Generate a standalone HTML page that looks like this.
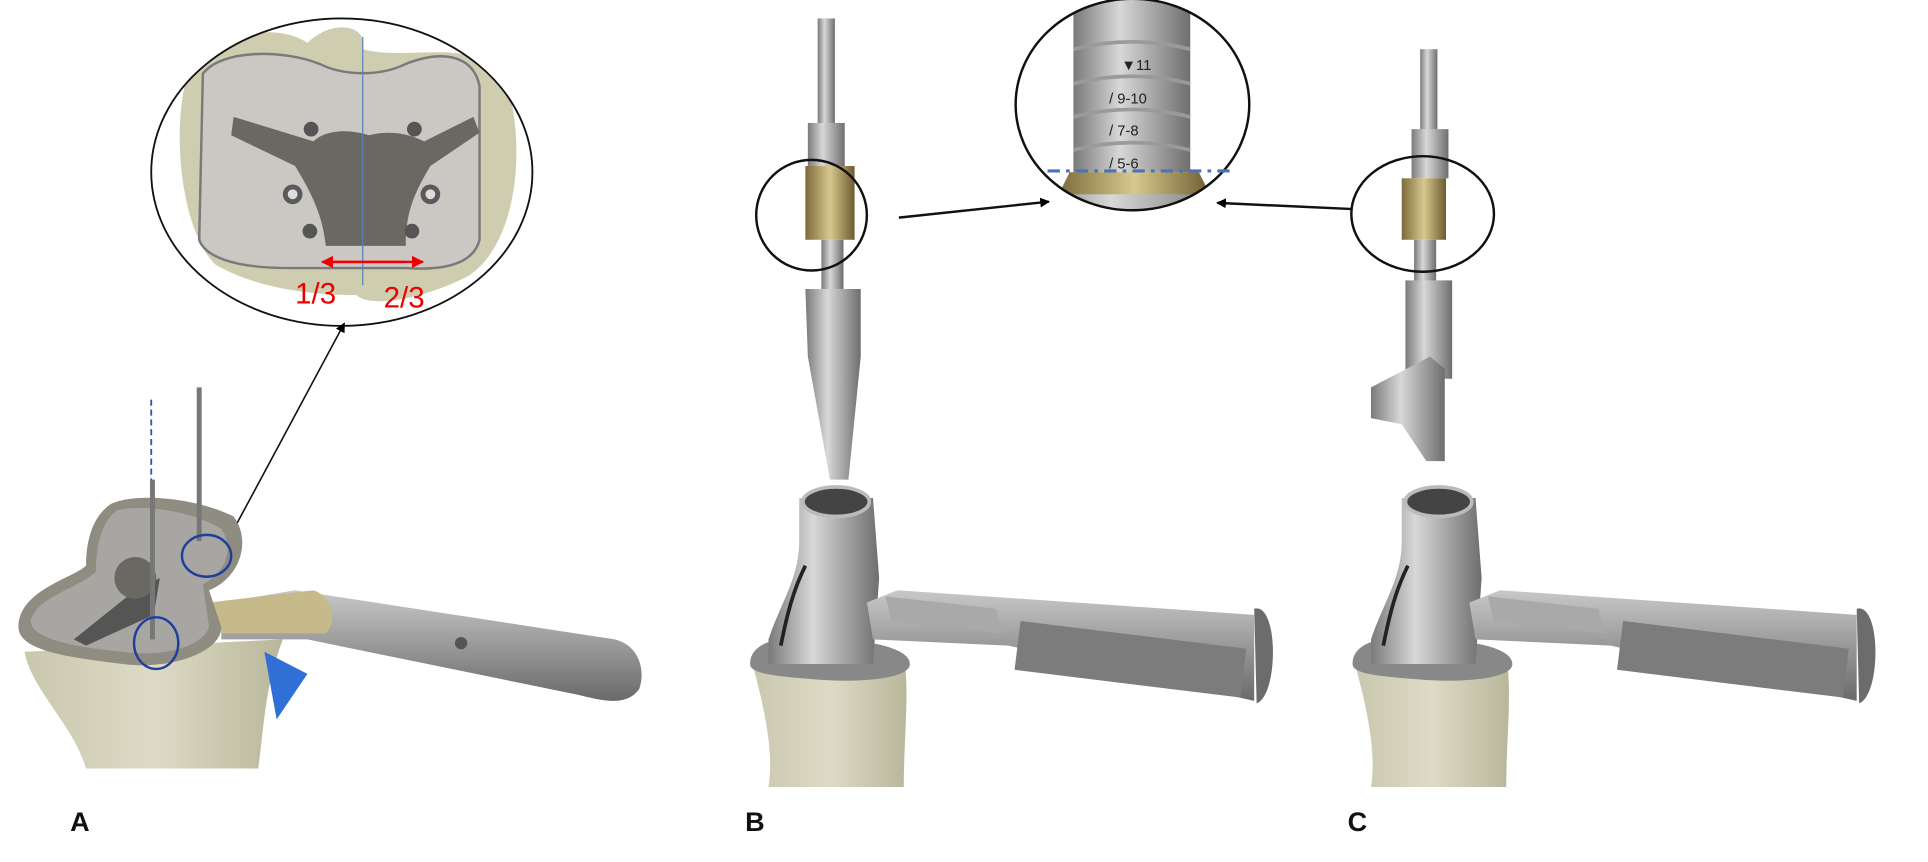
<!DOCTYPE html>
<html><head><meta charset="utf-8"><style>
html,body{margin:0;padding:0;background:#fff;width:1928px;height:862px;overflow:hidden}
svg{display:block}
</style></head><body>
<svg width="1928" height="862" viewBox="0 0 1568 701" preserveAspectRatio="none" xmlns="http://www.w3.org/2000/svg" font-family="Liberation Sans, Arial, sans-serif">
<defs>
<linearGradient id="met" x1="0" x2="1"><stop offset="0" stop-color="#7a7a7a"/><stop offset=".4" stop-color="#d8d8d8"/><stop offset="1" stop-color="#6e6e6e"/></linearGradient>
<linearGradient id="bone" x1="0" x2="1"><stop offset="0" stop-color="#c9c7ad"/><stop offset=".5" stop-color="#dddbc6"/><stop offset="1" stop-color="#b9b79a"/></linearGradient>
<linearGradient id="gold" x1="0" x2="1"><stop offset="0" stop-color="#7c6a3a"/><stop offset=".5" stop-color="#d8c88e"/><stop offset="1" stop-color="#6d5c30"/></linearGradient>
<linearGradient id="hand" y1="0" y2="1" x1="0" x2="0"><stop offset="0" stop-color="#c8c8c8"/><stop offset="1" stop-color="#6a6a6a"/></linearGradient>
<marker id="ah" markerWidth="8" markerHeight="8" refX="7" refY="4" orient="auto" markerUnits="userSpaceOnUse"><path d="M0,0 L8,4 L0,8 z" fill="#000"/></marker>
<marker id="ra" markerWidth="10" markerHeight="10" refX="9" refY="5" orient="auto" markerUnits="userSpaceOnUse"><path d="M0,0 L10,5 L0,10 z" fill="#e00"/></marker>
<clipPath id="c1"><ellipse cx="278" cy="140" rx="155" ry="125"/></clipPath>
<clipPath id="c2"><ellipse cx="921" cy="85" rx="95" ry="86"/></clipPath>
</defs>

<!-- ===== A zoom circle ===== -->
<g clip-path="url(#c1)">
<path d="M150,70 C170,20 230,20 250,35 C270,15 300,20 295,40 C330,50 380,30 410,60 C430,120 420,200 380,225 C340,245 300,250 290,240 C240,240 200,230 175,215 C150,190 140,120 150,70z" fill="#cfcdb0"/>
<path d="M165,60 C180,40 230,40 260,52 C280,62 310,62 330,52 C360,40 385,45 390,70 L390,195 C385,215 360,220 330,218 L290,218 L235,218 C200,218 168,212 162,195 z" fill="#cbc8c4" stroke="#7a7a7a" stroke-width="2"/>
<path d="M190,95 L255,115 C265,105 285,105 300,110 C320,105 335,110 345,115 L385,95 L390,108 L350,135 C335,160 330,175 330,200 L300,200 L265,200 C262,175 255,160 240,135 L188,110 z" fill="#6b6864"/>
<circle cx="238" cy="158" r="8" fill="#5a5a5a"/><circle cx="238" cy="158" r="4" fill="#ddd"/>
<circle cx="350" cy="158" r="8" fill="#5a5a5a"/><circle cx="350" cy="158" r="4" fill="#ddd"/>
<circle cx="253" cy="105" r="6" fill="#555"/><circle cx="337" cy="105" r="6" fill="#555"/>
<circle cx="252" cy="188" r="6" fill="#555"/><circle cx="335" cy="188" r="6" fill="#555"/>
</g>
<ellipse cx="278" cy="140" rx="155" ry="125" fill="none" stroke="#111" stroke-width="1.5"/>
<line x1="295" y1="30" x2="295" y2="232" stroke="#5b7fc0" stroke-width="1"/>
<line x1="268" y1="213" x2="344" y2="213" stroke="#e00" stroke-width="2" marker-end="url(#ra)"/>
<line x1="330" y1="213" x2="262" y2="213" stroke="#e00" stroke-width="2" marker-end="url(#ra)"/>
<text x="240" y="247" font-size="24" fill="#e00">1/3</text>
<text x="312" y="250" font-size="24" fill="#e00">2/3</text>
<line x1="185" y1="440" x2="280" y2="263" stroke="#111" stroke-width="1.3" marker-end="url(#ah)"/>

<!-- ===== A bottom ===== -->
<path d="M20,530 C25,560 60,590 70,625 L210,625 C215,590 215,560 230,520 Z" fill="url(#bone)"/>
<path d="M215,530 L250,548 L225,585 Z" fill="#2f6fd6"/>
<path d="M180,490 L240,480 L500,520 C520,525 525,545 520,560 C510,575 490,570 470,565 L250,520 L180,520 Z" fill="url(#hand)"/>
<path d="M170,490 L255,480 C270,485 275,505 265,515 L180,515 Z" fill="#c6b98a"/>
<path d="M90,410 C110,400 160,405 190,420 C205,440 195,470 170,480 L180,510 C180,530 140,545 100,540 C60,535 15,530 15,510 C15,480 60,470 70,460 C70,440 75,420 90,410z" fill="#8f8c82"/>
<path d="M95,415 C115,410 155,415 180,430 C190,445 185,465 165,475 L170,510 C165,525 135,535 100,530 C65,527 25,520 25,505 C30,485 65,478 78,465 C78,445 82,425 95,415z" fill="#a7a6a2"/>
<path d="M60,520 L110,480 L130,470 L125,500 L70,525z" fill="#555"/>
<circle cx="110" cy="470" r="17" fill="#6a6862"/>
<line x1="123" y1="325" x2="123" y2="520" stroke="#2d5bb0" stroke-width="1.5" stroke-dasharray="5,3"/>
<line x1="124" y1="390" x2="124" y2="520" stroke="#777" stroke-width="4"/>
<line x1="162" y1="315" x2="162" y2="440" stroke="#777" stroke-width="4"/>
<ellipse cx="168" cy="452" rx="20" ry="17" fill="none" stroke="#1f3f9a" stroke-width="2"/>
<ellipse cx="127" cy="523" rx="18" ry="21" fill="none" stroke="#1f3f9a" stroke-width="2"/>
<circle cx="375" cy="523" r="5" fill="#555"/>

<!-- ===== B top instrument ===== -->
<rect x="665" y="15" width="14" height="90" fill="url(#met)"/>
<rect x="657" y="100" width="30" height="35" fill="url(#met)"/>
<rect x="655" y="135" width="40" height="60" fill="url(#gold)"/>
<rect x="668" y="195" width="18" height="40" fill="url(#met)"/>
<path d="M655,235 L700,235 L700,290 L690,390 L675,390 L657,290z" fill="url(#met)"/>
<ellipse cx="660" cy="175" rx="45" ry="45" fill="none" stroke="#111" stroke-width="2"/>
<line x1="731" y1="177" x2="853" y2="164" stroke="#111" stroke-width="2" marker-end="url(#ah)"/>

<!-- B zoom circle -->
<g clip-path="url(#c2)">
<rect x="873" y="0" width="95" height="140" fill="url(#met)"/>
<path d="M870,140 L975,140 L985,160 L860,160z" fill="url(#gold)"/>
<rect x="840" y="158" width="160" height="20" fill="url(#met)"/>
<g stroke="#9a9a9a" stroke-width="3" fill="none"><path d="M873,40 Q920,28 968,40"/><path d="M873,68 Q920,56 968,68"/><path d="M873,95 Q920,83 968,95"/><path d="M873,122 Q920,110 968,122"/></g>
</g>
<ellipse cx="921" cy="85" rx="95" ry="86" fill="none" stroke="#111" stroke-width="2"/>
<text x="912" y="57" font-size="12" fill="#222">▼11</text>
<text x="902" y="84" font-size="12" fill="#222">/ 9-10</text>
<text x="902" y="110" font-size="12" fill="#222">/ 7-8</text>
<text x="902" y="137" font-size="12" fill="#222">/ 5-6</text>
<line x1="852" y1="139" x2="1002" y2="139" stroke="#4a73b8" stroke-width="2.5" stroke-dasharray="10,5,3,5"/>

<!-- ===== C top instrument ===== -->
<rect x="1155" y="40" width="14" height="70" fill="url(#met)"/>
<rect x="1148" y="105" width="30" height="40" fill="url(#met)"/>
<rect x="1140" y="145" width="36" height="50" fill="url(#gold)"/>
<rect x="1150" y="195" width="18" height="35" fill="url(#met)"/>
<rect x="1143" y="228" width="38" height="80" fill="url(#met)"/>
<path d="M1115,315 L1163,290 L1175,300 L1175,375 L1160,375 L1140,345 L1115,340z" fill="url(#met)"/>
<ellipse cx="1157" cy="174" rx="58" ry="47" fill="none" stroke="#111" stroke-width="2"/>
<line x1="1100" y1="170" x2="990" y2="165" stroke="#111" stroke-width="2" marker-end="url(#ah)"/>

<!-- ===== B bottom ===== -->
<g id="bot">
<path d="M612,540 C620,570 630,610 625,640 L735,640 C735,600 740,560 735,535 Z" fill="url(#bone)"/>
<path d="M610,540 C610,520 640,515 680,520 C720,522 740,530 740,540 C740,552 700,555 670,553 C630,550 610,548 610,540z" fill="#888"/>
<path d="M650,405 L710,405 L715,470 L710,540 L625,540 L625,520 C635,490 650,470 650,440z" fill="url(#met)"/>
<ellipse cx="680" cy="408" rx="27" ry="12" fill="#444" stroke="#bbb" stroke-width="3"/>
<path d="M655,460 C645,480 640,500 635,525" stroke="#222" stroke-width="3" fill="none"/>
<path d="M705,490 L730,480 L1020,500 L1020,570 L820,525 L710,520z" fill="url(#hand)"/>
<rect x="830" y="505" width="185" height="40" fill="#7c7c7c" transform="rotate(7 830 505)"/>
<path d="M720,485 L810,495 L815,515 L725,505z" fill="#a9a9a9"/>
<path d="M1020,495 C1040,490 1040,565 1022,572z" fill="#6c6c6c"/>
</g>
<use href="#bot" transform="translate(490,0)"/>

<text x="57" y="676" font-size="22" font-weight="bold" fill="#111">A</text>
<text x="606" y="676" font-size="22" font-weight="bold" fill="#111">B</text>
<text x="1096" y="676" font-size="22" font-weight="bold" fill="#111">C</text>
</svg>
</body></html>
